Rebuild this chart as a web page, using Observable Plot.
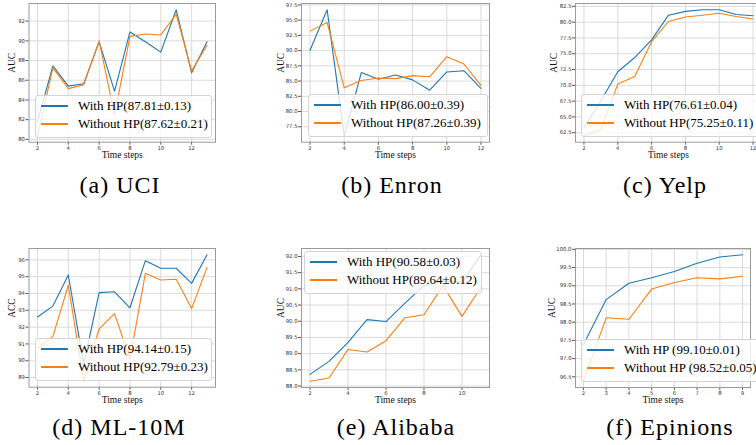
<!DOCTYPE html>
<html><head><meta charset="utf-8">
<script src="https://cdn.jsdelivr.net/npm/d3@7"></script>
<script src="https://cdn.jsdelivr.net/npm/@observablehq/plot@0.6"></script>
<style>
body{margin:0;background:#fff;overflow:hidden}
#fig{position:relative;width:756px;height:445px;overflow:hidden;background:#fff}
.panel{position:absolute}
.cap{position:absolute;font-size:24px;letter-spacing:1px;line-height:24px;transform:translateX(-50%);white-space:nowrap;color:#000}
.leg{position:absolute;background:rgba(255,255,255,0.8);border:1px solid #d4d4d4;border-radius:3px;font-size:13px;color:#000;padding:1px 0 4px 0;white-space:nowrap;box-sizing:border-box}
.row{display:flex;align-items:center;height:18px}
.sw{width:27px;height:1.5px;margin-left:5px;margin-right:10px;flex:none}
</style>
</head><body><div id="fig"></div>
<script>
// ---- data ----
const stepsUCI = [2,3,4,5,6,7,8,9,10,11,12,13];
const withUCI = [81.8,87.45,85.4,85.65,89.9,84.9,90.9,89.9,88.85,93.15,86.75,89.9];
const withoutUCI = [80.35,87.25,85.15,85.55,90.0,82.45,90.45,90.7,90.6,92.7,86.95,89.55];

const stepsEnron = [2,3,4,5,6,7,8,9,10,11,12];
const withEnron = [90.05,96.7,76.0,86.4,85.3,86.0,85.2,83.5,86.5,86.7,83.8];
const withoutEnron = [93.2,94.6,83.9,85.1,85.5,85.4,85.9,85.7,89.0,87.8,84.3];

const stepsYelp = [2,3,4,5,6,7,8,9,10,11,12];
const withYelp = [63.3,67.55,72.15,74.4,77.2,81.1,81.7,81.95,81.95,81.2,81.0];
const withoutYelp = [62.0,63.0,70.2,71.4,76.9,80.1,80.8,81.1,81.4,80.9,80.5];

const stepsML = [2,3,4,5,6,7,8,9,10,11,12,13];
const withML = [92.6,93.25,95.1,89.8,94.05,94.1,93.15,95.95,95.5,95.5,94.6,96.3];
const withoutML = [90.75,91.45,94.5,88.8,91.9,92.8,90.1,95.2,94.8,94.85,93.1,95.55];

const stepsAli = [2,3,4,5,6,7,8,9,10,11];
const withAli = [88.36,88.76,89.35,90.05,89.99,90.56,91.1,91.25,91.2,92.05];
const withoutAli = [88.15,88.25,89.13,89.05,89.4,90.11,90.2,91.1,90.15,91.05];

const stepsEpi = [2,3,4,5,6,7,8,9];
const withEpi = [97.39,98.62,99.07,99.22,99.39,99.62,99.79,99.85];
const withoutEpi = [96.38,98.12,98.08,98.91,99.09,99.22,99.19,99.26];

const xticksA = [2,4,6,8,10,12];
const xticksE = [2,4,6,8,10];
const xticksF = [2,3,4,5,6,7,8,9];
const yticksUCI = [80,82,84,86,88,90,92];
const yticksEnron = [77.5,80,82.5,85,87.5,90,92.5,95,97.5];
const yticksYelp = [62.5,65,67.5,70,72.5,75,77.5,80,82.5];
const yticksML = [89,90,91,92,93,94,95,96];
const yticksAli = [88,88.5,89,89.5,90,90.5,91,91.5,92];
const yticksEpi = [96.5,97,97.5,98,98.5,99,99.5,100];

const legendWith = ["With HP(87.81±0.13)","With HP(86.00±0.39)","With HP(76.61±0.04)","With HP(94.14±0.15)","With HP(90.58±0.03)","With HP (99.10±0.01)"];
const legendWithout = ["Without HP(87.62±0.21)","Without HP(87.26±0.39)","Without HP(75.25±0.11)","Without HP(92.79±0.23)","Without HP(89.64±0.12)","Without HP (98.52±0.05)"];
const captions = ["(a) UCI","(b) Enron","(c) Yelp","(d) ML-10M","(e) Alibaba","(f) Epinions"];
const ylabels = ["AUC","AUC","AUC","ACC","AUC","AUC"];

// ---- layout ----
const BLUE = "#1f77b4", ORANGE = "#ff7f0e";
const SERIF = "Liberation Serif";
const panels = [
 {steps:stepsUCI, w:withUCI, wo:withoutUCI, xt:xticksA, yt:yticksUCI, fmt:"d",
  svg:[0,0,252,165], fr:[28.5,3,215,141.7], ydx:-17.5, leg:[35,95,177], cap:[120,185]},
 {steps:stepsEnron, w:withEnron, wo:withoutEnron, xt:xticksA, yt:yticksEnron, fmt:".1f",
  svg:[252,0,252,165], fr:[301,3,489,141.7], ydx:-21, leg:[308,94,180], cap:[392,185]},
 {steps:stepsYelp, w:withYelp, wo:withoutYelp, xt:xticksA, yt:yticksYelp, fmt:".1f",
  svg:[504,0,262,165], fr:[575,3,761,141.7], ydx:-22, leg:[581,94,190], cap:[665,185]},
 {steps:stepsML, w:withML, wo:withoutML, xt:xticksA, yt:yticksML, fmt:"d",
  svg:[0,225,252,185], fr:[28.5,248,215,386.7], ydx:-17.5, leg:[35,338,177], cap:[119,427]},
 {steps:stepsAli, w:withAli, wo:withoutAli, xt:xticksE, yt:yticksAli, fmt:".1f",
  svg:[252,225,252,185], fr:[301,248,489,387], ydx:-21, leg:[304,251,178], cap:[396,427]},
 {steps:stepsEpi, w:withEpi, wo:withoutEpi, xt:xticksF, yt:yticksEpi, fmt:".1f",
  svg:[504,225,252,185], fr:[575,248,750,387], ydx:-24, leg:[581,339,190], cap:[670,427]}
];

function pad(ext){const m=(ext[1]-ext[0])*0.05;return [ext[0]-m, ext[1]+m];}

const fig = document.getElementById("fig");
panels.forEach((p,i)=>{
  const dW = p.steps.map((s,j)=>({x:s,y:p.w[j]}));
  const dO = p.steps.map((s,j)=>({x:s,y:p.wo[j]}));
  const xdom = pad(d3.extent(p.steps));
  const ydom = pad(d3.extent([...p.w,...p.wo]));
  const [sl,st,sw,sh] = p.svg; const [fx0,fy0,fx1,fy1] = p.fr;
  const tickStyle = {fontFamily:"DejaVu Sans", fontSize:5.3, fill:"#333", stroke:"#555", tickSize:3, tickPadding:1};
  const chart = Plot.plot({
    width:sw, height:sh,
    marginLeft:fx0-sl, marginTop:fy0-st, marginRight:sl+sw-fx1, marginBottom:st+sh-fy1,
    x:{domain:xdom}, y:{domain:ydom},
    style:{background:"transparent", overflow:"visible"},
    marks:[
      Plot.gridX(p.xt,{stroke:"#d6d6d6", strokeOpacity:1, strokeWidth:0.9}),
      Plot.gridY(p.yt,{stroke:"#d6d6d6", strokeOpacity:1, strokeWidth:0.9}),
      Plot.axisX(p.xt,{...tickStyle, label:null, tickFormat:d3.format("d")}),
      Plot.axisY(p.yt,{...tickStyle, label:null, tickFormat:d3.format(p.fmt)}),
      Plot.line(dW,{x:"x",y:"y",stroke:BLUE,strokeWidth:1.1}),
      Plot.line(dO,{x:"x",y:"y",stroke:ORANGE,strokeWidth:1.1}),
      Plot.frame({stroke:"#9a9a9a", strokeWidth:1}),
      Plot.text(["Time steps"],{frameAnchor:"bottom", dy:15.5, fontFamily:SERIF, fontSize:9.5, fill:"#111"}),
      Plot.text([ylabels[i]],{frameAnchor:"left", dx:p.ydx, rotate:-90, fontFamily:SERIF, fontSize:9.5, fill:"#111"})
    ]
  });
  chart.classList.add("panel");
  chart.style.left = sl+"px"; chart.style.top = st+"px";
  fig.appendChild(chart);

  const leg = document.createElement("div");
  leg.className = "leg";
  leg.style.fontFamily = "'Liberation Serif'";
  leg.style.left = p.leg[0]+"px"; leg.style.top = p.leg[1]+"px"; leg.style.width = p.leg[2]+"px";
  leg.innerHTML = `<div class="row"><div class="sw" style="background:${BLUE}"></div><span>${legendWith[i]}</span></div>`+
                  `<div class="row"><div class="sw" style="background:${ORANGE}"></div><span>${legendWithout[i]}</span></div>`;
  fig.appendChild(leg);

  const cap = document.createElement("div");
  cap.className = "cap";
  cap.style.fontFamily = "'Liberation Serif'";
  cap.textContent = captions[i];
  cap.style.left = p.cap[0]+"px"; cap.style.top = (p.cap[1]-12)+"px";
  fig.appendChild(cap);
});
</script>
</body></html>
